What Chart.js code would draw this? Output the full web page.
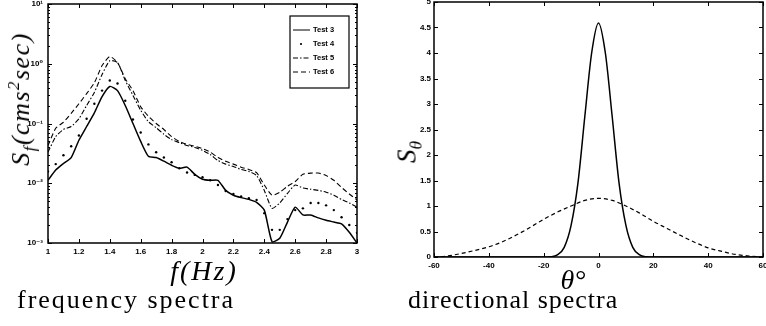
<!DOCTYPE html>
<html><head><meta charset="utf-8">
<script src="https://cdn.jsdelivr.net/npm/chart.js@4"></script>
<style>
html,body{margin:0;padding:0;background:#fff;width:766px;height:326px;overflow:hidden;position:relative;}
canvas{position:absolute;top:0;}
#c1{left:0;}
#c2{left:380px;}
.t{position:absolute;font-family:"Liberation Serif","DejaVu Serif",serif;color:#000;white-space:nowrap;line-height:1;}
.it{font-style:italic;}
sub,sup{font-size:65%;line-height:0;}
</style></head><body>
<canvas id="c1" width="380" height="326"></canvas>
<canvas id="c2" width="386" height="326"></canvas>
<div class="t it" id="ylab1" style="left:21px;top:99px;font-size:26px;letter-spacing:1.5px;transform:translate(-50%,-50%) rotate(-90deg);">S<sub>f</sub>(cms<sup>2</sup>sec)</div>
<div class="t it" id="xlab1" style="left:204px;top:271px;font-size:28px;letter-spacing:2px;transform:translate(-50%,-50%);">f(Hz)</div>
<div class="t" id="cap1" style="left:17px;top:287px;font-size:26px;letter-spacing:2px;">frequency spectra</div>
<div class="t it" id="ylab2" style="left:407px;top:152px;font-size:27px;transform:translate(-50%,-50%) rotate(-90deg);">S<sub>θ</sub></div>
<div class="t it" id="xlab2" style="left:573px;top:280px;font-size:28px;transform:translate(-50%,-50%);">θ°</div>
<div class="t" id="cap2" style="left:408px;top:287px;font-size:26px;letter-spacing:1px;">directional spectra</div>
<script>
// ---------- data: frequency spectra ----------
const freqHz = [1.00,1.05,1.10,1.15,1.20,1.25,1.30,1.35,1.40,1.45,1.50,1.55,1.60,1.65,1.70,1.75,1.80,1.85,1.90,1.95,2.00,2.05,2.10,2.15,2.20,2.25,2.30,2.35,2.40,2.45,2.50,2.55,2.60,2.65,2.70,2.75,2.80,2.85,2.90,2.95,3.00];
const test3 = [0.0112,0.0166,0.0214,0.0269,0.0525,0.0891,0.151,0.282,0.417,0.355,0.200,0.100,0.0501,0.0282,0.0269,0.0234,0.0200,0.0178,0.0186,0.0141,0.0117,0.0112,0.0112,0.00759,0.00631,0.00575,0.00537,0.00479,0.00355,0.00105,0.00120,0.00224,0.00398,0.00295,0.00295,0.00263,0.00240,0.00224,0.00209,0.00151,0.00100];
const test4 = [0.0158,0.0209,0.0295,0.0417,0.0631,0.120,0.214,0.355,0.525,0.468,0.240,0.117,0.0708,0.0447,0.0331,0.0269,0.0224,0.0178,0.0151,0.0138,0.0126,0.0112,0.00933,0.00741,0.00661,0.00603,0.00562,0.00525,0.00316,0.00166,0.00166,0.00251,0.00355,0.00380,0.00468,0.00468,0.00427,0.00355,0.00269,0.00200,0.00148];
const test5 = [0.0331,0.0603,0.0794,0.0891,0.120,0.200,0.331,0.661,1.12,1.05,0.525,0.295,0.166,0.107,0.0851,0.0661,0.0537,0.0479,0.0427,0.0398,0.0355,0.0302,0.0240,0.0209,0.0191,0.0170,0.0158,0.0135,0.00759,0.00380,0.00468,0.00676,0.00933,0.00832,0.00794,0.00759,0.00708,0.00631,0.00537,0.00468,0.00398];
const test6 = [0.0427,0.0832,0.105,0.148,0.214,0.316,0.479,0.933,1.32,1.05,0.562,0.355,0.191,0.132,0.100,0.0794,0.0603,0.0501,0.0447,0.0417,0.0380,0.0331,0.0269,0.0234,0.0209,0.0186,0.0170,0.0151,0.00933,0.00631,0.00708,0.00891,0.0107,0.0141,0.0148,0.0148,0.0135,0.0112,0.00851,0.00661,0.00525];
const seriesNames = ['Test 3','Test 4','Test 5','Test 6'];
const freqTicks = [1,1.2,1.4,1.6,1.8,2,2.2,2.4,2.6,2.8,3];
const freqTickLabels = ['1','1.2','1.4','1.6','1.8','2','2.2','2.4','2.6','2.8','3'];
const psdTicks = [0.001,0.01,0.1,1,10];
const psdTickLabels = ['10\u207B\u00B3','10\u207B\u00B2','10\u207B\u00B9','10\u2070','10\u00B9'];

// ---------- data: directional spectra ----------
const thetaNarrow = [-60,-40,-20,-17.5,-15,-12.5,-10,-7.5,-5,-2.5,0,2.5,5,7.5,10,12.5,15,17.5,20,40,60];
const sNarrow = [0,0,0,0.005,0.04,0.19,0.62,1.45,2.75,4.0,4.59,4.0,2.75,1.45,0.62,0.19,0.04,0.005,0,0,0];
const thetaWide = [-60,-55,-50,-45,-40,-35,-30,-25,-20,-15,-10,-5,0,5,10,15,20,25,30,35,40,45,50,55,60];
const sWide = [0,0.02,0.07,0.13,0.2,0.3,0.43,0.58,0.74,0.88,1.0,1.11,1.15,1.11,1.0,0.86,0.7,0.56,0.42,0.29,0.18,0.11,0.05,0.02,0];
const thetaTicks = [-60,-40,-20,0,20,40,60];
const sTicks = [0,0.5,1,1.5,2,2.5,3,3.5,4,4.5,5];

// ---------- helpers ----------
const pts = (xs, ys) => xs.map((x, i) => ({x, y: ys[i]}));
const tickFont = {family: '"Liberation Sans","DejaVu Sans",sans-serif', size: 8, weight: 'bold'};

const framePlugin = {
  id: 'frame',
  afterDatasetsDraw(chart, args, opts) {
    const {ctx, chartArea: a} = chart;
    const xs = chart.scales.x, ys = chart.scales.y;
    ctx.save();
    ctx.strokeStyle = '#000';
    ctx.lineWidth = 1.5;
    ctx.strokeRect(a.left, a.top, a.right - a.left, a.bottom - a.top);
    ctx.lineWidth = 1;
    ctx.beginPath();
    const L = 4, Lm = 2;
    xs.ticks.forEach(t => {
      const p = Math.round(xs.getPixelForValue(t.value)) + 0.5;
      ctx.moveTo(p, a.bottom); ctx.lineTo(p, a.bottom - L);
      ctx.moveTo(p, a.top); ctx.lineTo(p, a.top + L);
    });
    ys.ticks.forEach(t => {
      const p = Math.round(ys.getPixelForValue(t.value)) + 0.5;
      ctx.moveTo(a.left, p); ctx.lineTo(a.left + L, p);
      ctx.moveTo(a.right, p); ctx.lineTo(a.right - L, p);
    });
    if (opts.logMinor) {
      for (let e = -3; e < 1; e++) {
        for (let k = 2; k <= 9; k++) {
          const p = Math.round(ys.getPixelForValue(k * Math.pow(10, e))) + 0.5;
          ctx.moveTo(a.left, p); ctx.lineTo(a.left + Lm, p);
          ctx.moveTo(a.right, p); ctx.lineTo(a.right - Lm, p);
        }
      }
    }
    ctx.stroke();
    ctx.restore();
  }
};

const legendPlugin = {
  id: 'boxLegend',
  afterDatasetsDraw(chart, args, opts) {
    if (!opts.show) return;
    const {ctx, chartArea: a} = chart;
    const bx = a.right - 67, by = a.top + 12, bw = 59, bh = 72;
    ctx.save();
    ctx.fillStyle = '#fff';
    ctx.fillRect(bx, by, bw, bh);
    ctx.strokeStyle = '#000';
    ctx.lineWidth = 1.2;
    ctx.strokeRect(bx, by, bw, bh);
    ctx.font = 'bold 7.5px "Liberation Sans","DejaVu Sans",sans-serif';
    ctx.textBaseline = 'middle';
    ctx.fillStyle = '#000';
    chart.data.datasets.forEach((ds, i) => {
      const y = by + 14 + i * 14;
      if (ds.showLine === false) {
        ctx.beginPath(); ctx.arc(bx + 11, y, 1.1, 0, Math.PI * 2); ctx.fill();
      } else {
        ctx.beginPath();
        ctx.setLineDash(ds.borderDash || []);
        ctx.lineWidth = 1;
        ctx.moveTo(bx + 3, y); ctx.lineTo(bx + 20, y); ctx.stroke();
        ctx.setLineDash([]);
      }
      ctx.fillText(ds.label, bx + 23, y);
    });
    ctx.restore();
  }
};

// ---------- left chart ----------
new Chart(document.getElementById('c1'), {
  type: 'line',
  data: {
    datasets: [
      {label: seriesNames[0], data: pts(freqHz, test3), borderColor: '#000', borderWidth: 1.5, pointRadius: 0, tension: 0.2},
      {label: seriesNames[1], data: pts(freqHz, test4), showLine: false, pointRadius: 1.2, pointBorderWidth: 0, pointBackgroundColor: '#000', borderColor: '#000'},
      {label: seriesNames[2], data: pts(freqHz, test5), borderColor: '#000', borderWidth: 1.1, borderDash: [5, 2, 1.5, 2], pointRadius: 0, tension: 0.2},
      {label: seriesNames[3], data: pts(freqHz, test6), borderColor: '#000', borderWidth: 1.1, borderDash: [5, 3], pointRadius: 0, tension: 0.2}
    ]
  },
  options: {
    responsive: false, animation: false,
    layout: {padding: {left: 0, right: 23, top: 3, bottom: 63}},
    plugins: {legend: {display: false}, tooltip: {enabled: false}, frame: {logMinor: true}, boxLegend: {show: true}},
    scales: {
      x: {
        type: 'linear', min: 1, max: 3,
        afterBuildTicks: s => { s.ticks = freqTicks.map(v => ({value: v})); },
        ticks: {autoSkip: false, maxRotation: 0, padding: 4, color: '#000', font: tickFont,
          callback: (v, i) => freqTickLabels[i]},
        grid: {display: false, drawTicks: false}, border: {display: false},
        afterFit: s => { s.height = 20; s.paddingLeft = 0; s.paddingRight = 0; }
      },
      y: {
        type: 'logarithmic', min: 0.001, max: 10,
        afterBuildTicks: s => { s.ticks = psdTicks.map(v => ({value: v})); },
        ticks: {autoSkip: false, padding: 5, color: '#000', font: tickFont,
          callback: (v, i) => psdTickLabels[i]},
        grid: {display: false, drawTicks: false}, border: {display: false},
        afterFit: s => { s.width = 48; s.paddingTop = 0; s.paddingBottom = 0; }
      }
    }
  },
  plugins: [framePlugin, legendPlugin]
});

// ---------- right chart ----------
new Chart(document.getElementById('c2'), {
  type: 'line',
  data: {
    datasets: [
      {label: 'narrow', data: pts(thetaNarrow, sNarrow), borderColor: '#000', borderWidth: 1.5, pointRadius: 0, cubicInterpolationMode: 'monotone'},
      {label: 'wide', data: pts(thetaWide, sWide), borderColor: '#000', borderWidth: 1.2, borderDash: [4, 3], pointRadius: 0, cubicInterpolationMode: 'monotone'}
    ]
  },
  options: {
    responsive: false, animation: false,
    layout: {padding: {left: 0, right: 3, top: 2, bottom: 49}},
    plugins: {legend: {display: false}, tooltip: {enabled: false}, frame: {logMinor: false}, boxLegend: {show: false}},
    scales: {
      x: {
        type: 'linear', min: -60, max: 60,
        afterBuildTicks: s => { s.ticks = thetaTicks.map(v => ({value: v})); },
        ticks: {autoSkip: false, maxRotation: 0, padding: 4, color: '#000', font: tickFont,
          callback: v => String(v)},
        grid: {display: false, drawTicks: false}, border: {display: false},
        afterFit: s => { s.height = 20; s.paddingLeft = 0; s.paddingRight = 0; }
      },
      y: {
        type: 'linear', min: 0, max: 5,
        afterBuildTicks: s => { s.ticks = sTicks.map(v => ({value: v})); },
        ticks: {autoSkip: false, padding: 3, color: '#000', font: tickFont,
          callback: v => String(v)},
        grid: {display: false, drawTicks: false}, border: {display: false},
        afterFit: s => { s.width = 54; s.paddingTop = 0; s.paddingBottom = 0; }
      }
    }
  },
  plugins: [framePlugin, legendPlugin]
});
</script>
</body></html>
